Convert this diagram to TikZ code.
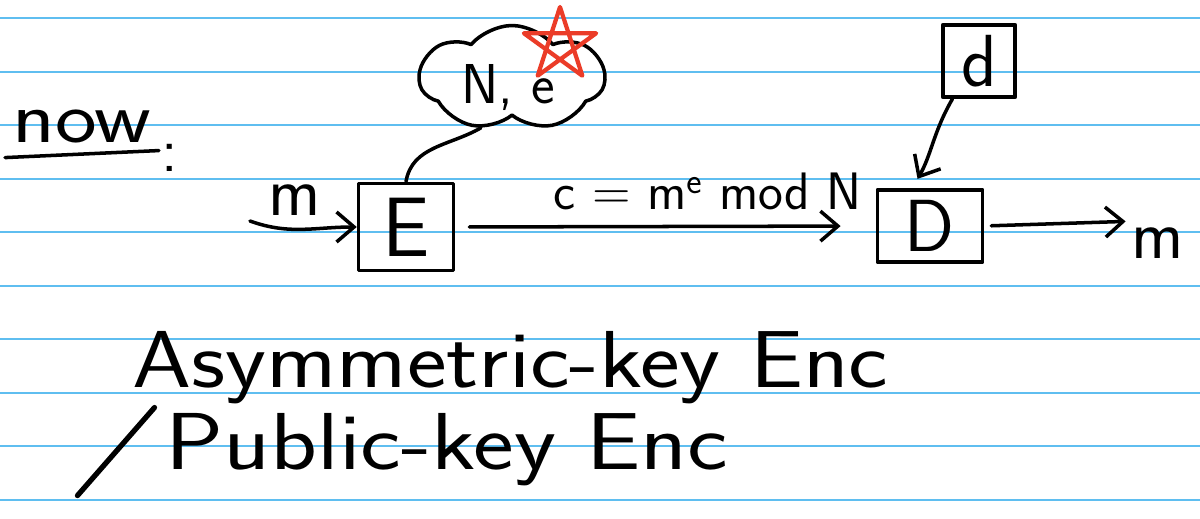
\documentclass[tikz,border=0pt]{standalone}
\usepackage{tikz}
\usetikzlibrary{arrows.meta}
\usetikzlibrary{shapes.symbols}
\definecolor{ruled}{RGB}{95,190,240}
\definecolor{starred}{RGB}{235,60,40}
\newcommand*\hw[1]{\fontsize{#1}{#1}\selectfont}

\begin{document}
\begin{tikzpicture}[x=0.02cm,y=0.02cm,
		pen/.style={line width=2pt, line cap=round, line join=round},
		keybox/.style={draw, pen, inner sep=0pt},
		hand/.style={font=\sffamily\hw{36}},
		barb/.style={pen, -{Straight Barb[length=3.5mm, width=6mm]}}]
		\useasboundingbox (0,0) rectangle (1200,518);
		\fill[white] (0,0) rectangle (1200,518);
		\foreach \y in {500,446,393,339,286,232,179,125,72,18} % ruled lines
			\draw[ruled, line width=1.2pt] (0,\y) -- (1200,\y);
		% heading
		\node[hand, font=\sffamily\hw{42}, xscale=1.2, transform shape] (now) at (82,392) {now};
		\node[hand] (colon) at (170,360) {:};
		\draw[pen] ([yshift=-5pt]now.south west) -- ([yshift=-1pt]now.south east);
		% boxes
		\node[keybox, minimum width=1.9cm, minimum height=1.75cm] (E) at (406,291) {\sffamily\hw{48}E};
		\node[keybox, minimum width=2.1cm, minimum height=1.45cm] (D) at (930,292) {\sffamily\hw{42}D};
		\node[keybox, minimum width=1.45cm, minimum height=1.45cm] (dkey) at (979,457) {\sffamily\hw{42}d};
		\node[cloud, cloud puffs=7, cloud puff arc=100, aspect=1.8, draw, pen, minimum width=3.7cm, minimum height=2.1cm] (pubkey) at (512,440) {};
		\node[hand, font=\sffamily\hw{32}] (ne) at (508,430) {N, e};
		\coordinate (st) at (560,473);
		\draw[starred, line width=2.4pt, line join=round] (st) +(90:38) -- +(234:38) -- +(18:38) -- +(162:38) -- +(306:38) -- cycle;
		% connectors
		\draw[pen] (pubkey.238) to[out=210, in=80] (E.north);
		\coordinate (min) at (250,297);
		\node[hand, font=\sffamily\hw{40}] (mlabel) at (295,318) {m};
		\draw[barb] (min) to[out=-20, in=180] (E.west);
		\draw[barb, shorten <=8pt, shorten >=20pt] (E.east) -- node[pos=0.6, above=5pt, font=\sffamily\hw{30}] {c = m$^{\mathsf{e}}$ mod N} (D.west);
		\draw[barb, shorten >=6pt] (dkey.235) to[out=-120, in=60] (D.115);
		\node[hand, font=\sffamily\hw{40}] (mout) at (1158,275) {m};
		\draw[barb, shorten <=4pt] (D.east) -- (mout.north west);
		% bottom lines
		\node[hand, font=\sffamily\hw{46}, xscale=1.17, transform shape, anchor=west] (asym) at (125,150) {Asymmetric-key Enc};
		\node[hand, font=\sffamily\hw{46}, xscale=1.2, transform shape, anchor=west] (pub) at (158,68) {Public-key Enc};
		\draw[pen, line width=3pt] ([xshift=-2pt]pub.north west) -- ++(-77,-88);
	\end{tikzpicture}
\end{document}
